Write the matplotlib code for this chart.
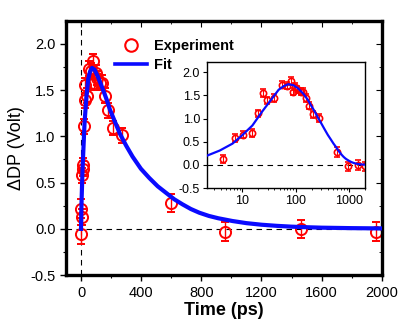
import matplotlib
matplotlib.use("Agg")
import matplotlib.pyplot as plt
from matplotlib.lines import Line2D
import numpy as np

plt.rcParams['font.family'] = ['Liberation Sans', 'DejaVu Sans']

# experiment points: time (ps), signal (Volt), error
t_exp = [0, 1, 4.3, 7.3, 10.4, 15.2, 20, 25, 29.6, 40, 55, 68, 82, 88, 98,
         107, 125, 140, 158, 180, 215, 270, 600, 960, 1460, 1960]
y_exp = [-0.06, 0.22, 0.13, 0.58, 0.65, 0.69, 1.11, 1.55, 1.39, 1.44, 1.73,
         1.71, 1.81, 1.58, 1.69, 1.63, 1.58, 1.58, 1.44, 1.28, 1.09, 1.01,
         0.28, -0.03, 0.0, -0.03]
err_exp = [0.1, 0.1, 0.09, 0.08, 0.08, 0.08, 0.08, 0.08, 0.08, 0.08, 0.08,
           0.08, 0.08, 0.08, 0.08, 0.08, 0.08, 0.08, 0.08, 0.08, 0.08, 0.08,
           0.1, 0.1, 0.1, 0.1]

# fit curve
t_fit = [0, 0.5, 1, 1.5, 2.2, 3.8, 6.6, 10, 15.5, 23.6, 36, 48, 60, 73, 90,
         111, 140, 170, 192, 225, 258, 300, 343, 398, 454, 510, 565, 620,
         675, 730, 786, 850, 912, 1007, 1100, 1200, 1300, 1400, 1500, 1600,
         1800, 2000]
y_fit = [0, 0.05, 0.1, 0.15, 0.2, 0.31, 0.46, 0.64, 0.85, 1.15, 1.43, 1.62,
         1.70, 1.74, 1.72, 1.65, 1.53, 1.40, 1.29, 1.16, 1.03, 0.90, 0.78,
         0.65, 0.55, 0.46, 0.39, 0.32, 0.265, 0.215, 0.175, 0.14, 0.115,
         0.085, 0.062, 0.045, 0.033, 0.024, 0.018, 0.013, 0.008, 0.005]

red = '#ff0000'
blue = '#0a0aff'

fig = plt.figure(figsize=(4.15, 3.26), dpi=100)
ax = fig.add_axes([0.159, 0.156, 0.761, 0.7805])

ax.axvline(0, color='k', ls=(0, (5, 4)), lw=0.8, zorder=1)
ax.axhline(0, color='k', ls=(0, (5, 4)), lw=0.8, zorder=1)
ax.errorbar(t_exp, y_exp, yerr=err_exp, fmt='o', mfc='none', mec=red,
            ecolor=red, ms=8, mew=1.4, elinewidth=1, capsize=3, zorder=2)
ax.plot(t_fit, y_fit, color=blue, lw=3, zorder=3)

ax.set_xlim(-100, 2000)
ax.set_ylim(-0.5, 2.25)
ax.set_xticks([0, 400, 800, 1200, 1600, 2000])
ax.set_xticks(np.arange(200, 2000, 400), minor=True)
ax.set_yticks([-0.5, 0.0, 0.5, 1.0, 1.5, 2.0])
ax.set_yticks(np.arange(-0.25, 2.25, 0.5), minor=True)
ax.set_yticklabels(['-0.5', '0.0', '0.5', '1.0', '1.5', '2.0'])
ax.tick_params(which='major', direction='out', length=4, width=1, labelsize=10.5)
ax.tick_params(which='minor', direction='out', length=2.5, width=0.8)
for s in ax.spines.values():
    s.set_linewidth(2.4)

# inward ticks on top and right
top = ax.secondary_xaxis('top')
top.set_xticks([0, 400, 800, 1200, 1600, 2000])
top.set_xticks(np.arange(200, 2000, 400), minor=True)
top.tick_params(which='both', direction='in', labeltop=False)
top.tick_params(which='major', length=4)
top.tick_params(which='minor', length=2.5)
right = ax.secondary_yaxis('right')
right.set_yticks([-0.5, 0.0, 0.5, 1.0, 1.5, 2.0])
right.set_yticks(np.arange(-0.25, 2.25, 0.5), minor=True)
right.tick_params(which='both', direction='in', labelright=False)
right.tick_params(which='major', length=4)
right.tick_params(which='minor', length=2.5)

ax.set_xlabel('Time (ps)', fontsize=13, fontweight='bold', labelpad=2)
ax.set_ylabel('\u0394DP (Volt)', fontsize=13, labelpad=4)

h_exp = Line2D([], [], ls='none', marker='o', mfc='none', mec=red, ms=9, mew=1.5)
h_fit = Line2D([], [], color=blue, lw=2.6)
ax.legend([h_exp, h_fit], ['Experiment', 'Fit'], loc='upper left',
          bbox_to_anchor=(0.252, 0.912), bbox_transform=fig.transFigure,
          frameon=False, prop={'weight': 'bold', 'size': 10.5},
          handlelength=2.2, handletextpad=0.5, borderpad=0.2,
          labelspacing=0.35)

# inset on log time axis
ins = fig.add_axes([0.499, 0.423, 0.381, 0.387])
ins.axhline(0, color='k', ls=(0, (5, 4)), lw=0.8, zorder=1)
ins.errorbar(t_exp, y_exp, yerr=err_exp, fmt='o', mfc='none', mec=red,
             ecolor=red, ms=4.5, mew=1.2, elinewidth=0.8, capsize=2, zorder=2)
ins.plot(t_fit, y_fit, color=blue, lw=1.6, zorder=3)
ins.set_xscale('log')
ins.set_xlim(2.2, 2000)
ins.set_ylim(-0.5, 2.22)
ins.set_xticks([10, 100, 1000])
ins.set_xticklabels(['10', '100', '1000'])
ins.set_yticks([-0.5, 0.0, 0.5, 1.0, 1.5, 2.0])
ins.set_yticklabels(['-0.5', '0.0', '0.5', '1.0', '1.5', '2.0'])
ins.tick_params(which='major', direction='out', length=3, width=0.8, labelsize=9, pad=2)
ins.tick_params(which='minor', direction='out', length=1.5, width=0.6)
for s in ins.spines.values():
    s.set_linewidth(1)

fig.savefig('out.png', dpi=100)
